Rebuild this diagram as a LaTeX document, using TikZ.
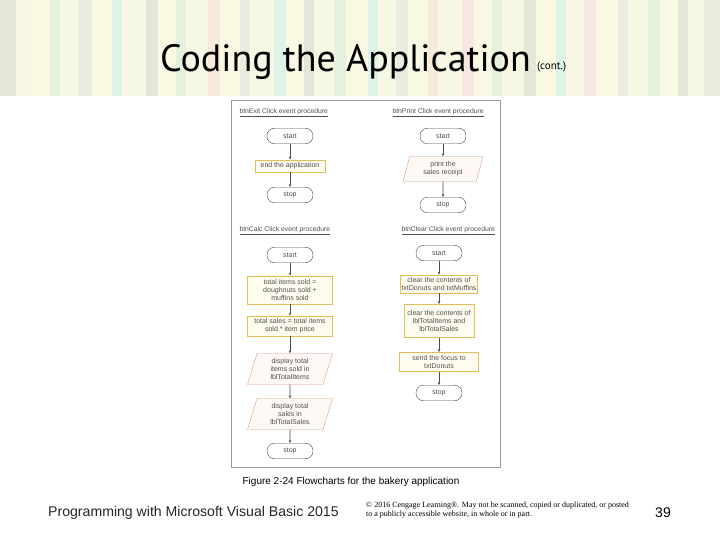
\documentclass[tikz,border=0pt]{standalone}
\usepackage{fontspec}
\setmainfont{Liberation Sans}
\newfontfamily\titlefont{PT Sans}
\newfontfamily\notefont{Liberation Serif}
\usetikzlibrary{shapes.geometric,arrows.meta}

\definecolor{termline}{HTML}{3E4E5E}
\definecolor{procline}{HTML}{E2BE5A}
\definecolor{procfill}{HTML}{FFFCEF}
\definecolor{ioline}{HTML}{D99A88}
\definecolor{iofill}{HTML}{FFF9F6}
\definecolor{frameline}{HTML}{9A9A9A}
\definecolor{flowtext}{HTML}{505050}
\definecolor{bgA}{HTML}{DCDFCB}
\definecolor{bgB}{HTML}{F4F6DC}
\definecolor{bgC}{HTML}{DDEDD2}
\definecolor{bgD}{HTML}{F7F8DA}
\definecolor{bgE}{HTML}{D3EFE0}
\definecolor{bgF}{HTML}{F6E4CF}
\definecolor{bgG}{HTML}{F5DEDC}
\definecolor{bgH}{HTML}{E4E6D6}

\begin{document}
\begin{tikzpicture}[x=1pt,y=-1pt,
    flowfont/.style={font=\fontsize{7}{8.2}\selectfont,text=flowtext},
    termbox/.style={flowfont,draw=termline,fill=white,rounded corners=7.5pt,
        minimum width=46pt,minimum height=15.5pt,inner sep=0pt},
    procbox/.style={flowfont,draw=procline,fill=procfill,line width=0.8pt,
        align=center,inner sep=1.2pt},
    iobox/.style={flowfont,trapezium,trapezium left angle=68,trapezium right angle=112,
        trapezium stretches body,draw=ioline,fill=iofill,align=center,inner sep=1pt},
    proclabel/.style={anchor=west,font=\fontsize{6.8}{8}\selectfont,text=flowtext},
    flow/.style={draw=black!70,line width=0.6pt,-{Stealth[length=3pt,width=2.6pt]}}]
    \useasboundingbox(0,0)rectangle(720,540);
    %背景
    \fill[white](0,0)rectangle(720,540);
    \foreach \xa/\wa/\ca in {0/16/bgA,16/12/bgB,28/22/bgD,50/10/bgC,60/18/bgB,78/14/bgH,
        92/20/bgD,112/10/bgE,122/24/bgB,146/12/bgA,158/18/bgD,176/10/bgC,186/22/bgB,
        208/12/bgF,220/20/bgD,240/10/bgH,250/24/bgB,274/12/bgE,286/18/bgD,304/10/bgA,
        314/20/bgB,334/12/bgC,346/22/bgD,368/10/bgE,378/18/bgB,396/12/bgH,408/20/bgD,
        428/10/bgF,438/24/bgB,462/12/bgG,474/18/bgD,492/10/bgC,502/22/bgB,524/12/bgA,
        536/20/bgD,556/10/bgE,566/18/bgB,584/12/bgG,596/22/bgD,618/10/bgH,628/20/bgB,
        648/12/bgC,660/18/bgD,678/10/bgA,688/16/bgB,704/16/bgH}
        \fill[\ca,fill opacity=0.75](\xa,0)rectangle++(\wa,96);
    %題名
    \node[anchor=base west,inner sep=0pt,font=\titlefont\fontsize{38}{44}\selectfont](title)at(160,72){Coding the Application};
    \node[anchor=base west,inner sep=0pt,font=\titlefont\fontsize{11}{13}\selectfont](cont)at(537,70){(cont.)};
    %枠
    \draw[frameline,line width=1pt](231,101)rectangle(500,467);
    %見出し
    \node[proclabel](exLabel)at(236,113){\underline{btnExit Click event procedure}};
    \node[proclabel](prLabel)at(389,113){\underline{btnPrint Click event procedure}};
    \node[proclabel](caLabel)at(236,231){\underline{btnCalc Click event procedure}};
    \node[proclabel](clLabel)at(398,231){\underline{btnClear Click event procedure}};
    %btnExit
    \node[termbox](exStart)at(290,136){start};
    \node[procbox,minimum width=70pt,minimum height=12pt](exEnd)at(290,166){end the application};
    \node[termbox](exStop)at(290,195){stop};
    %btnPrint
    \node[termbox](prStart)at(443,136){start};
    \node[iobox,minimum width=80pt,minimum height=25pt](prOut)at(443,169){print the\\sales receipt};
    \node[termbox](prStop)at(443,205){stop};
    %btnCalc
    \node[termbox](caStart)at(290,255){start};
    \node[procbox,minimum width=85pt,minimum height=28pt](caItems)at(290,290){total items sold =\\doughnuts sold +\\muffins sold};
    \node[procbox,minimum width=85pt,minimum height=20pt](caSales)at(290,326){total sales = total items\\sold * item price};
    \node[iobox,minimum width=85pt,minimum height=31pt](caShowItems)at(290,369){display total\\items sold in\\lblTotalItems};
    \node[iobox,minimum width=85pt,minimum height=31pt](caShowSales)at(290,414){display total\\sales in\\lblTotalSales};
    \node[termbox](caStop)at(290,451){stop};
    %btnClear
    \node[termbox](clStart)at(439,253){start};
    \node[procbox,minimum width=70pt,minimum height=18pt](clBoxes)at(439,284){clear the contents of\\txtDonuts and txtMuffins};
    \node[procbox,minimum width=70pt,minimum height=33pt](clLabels)at(439,321){clear the contents of\\lblTotalItems and\\lblTotalSales};
    \node[procbox,minimum width=79pt,minimum height=19pt](clFocus)at(439,362){send the focus to\\txtDonuts};
    \node[termbox](clStop)at(439,393){stop};
    %矢印
    \path[flow](exStart)to(exEnd);
    \path[flow](exEnd)to(exStop);
    \path[flow](prStart)to(prOut);
    \path[flow](prOut)to(prStop);
    \path[flow](caStart)to(caItems);
    \path[flow](caItems)to(caSales);
    \path[flow](caSales)to(caShowItems);
    \path[flow](caShowItems)to(caShowSales);
    \path[flow](caShowSales)to(caStop);
    \path[flow](clStart)to(clBoxes);
    \path[flow](clBoxes)to(clLabels);
    \path[flow](clLabels)to(clFocus);
    \path[flow](clFocus)to(clStop);
    %図の説明
    \node[font=\fontsize{10}{12}\selectfont](caption)at(351,482){Figure 2-24 Flowcharts for the bakery application};
    %脚注
    \node[anchor=base west,inner sep=0pt,font=\fontsize{14.1}{16}\selectfont,text=black!85](course)at(48,516){Programming with Microsoft Visual Basic 2015};
    \node[anchor=north west,align=left,inner sep=0pt,font=\notefont\fontsize{8}{9}\selectfont](rights)at(366,502){© 2016 Cengage Learning®. May not be scanned, copied or duplicated, or posted\\to a publicly accessible website, in whole or in part.};
    \node[anchor=base east,inner sep=0pt,font=\fontsize{14}{16}\selectfont](page)at(671,517){39};
\end{tikzpicture}
\end{document}
